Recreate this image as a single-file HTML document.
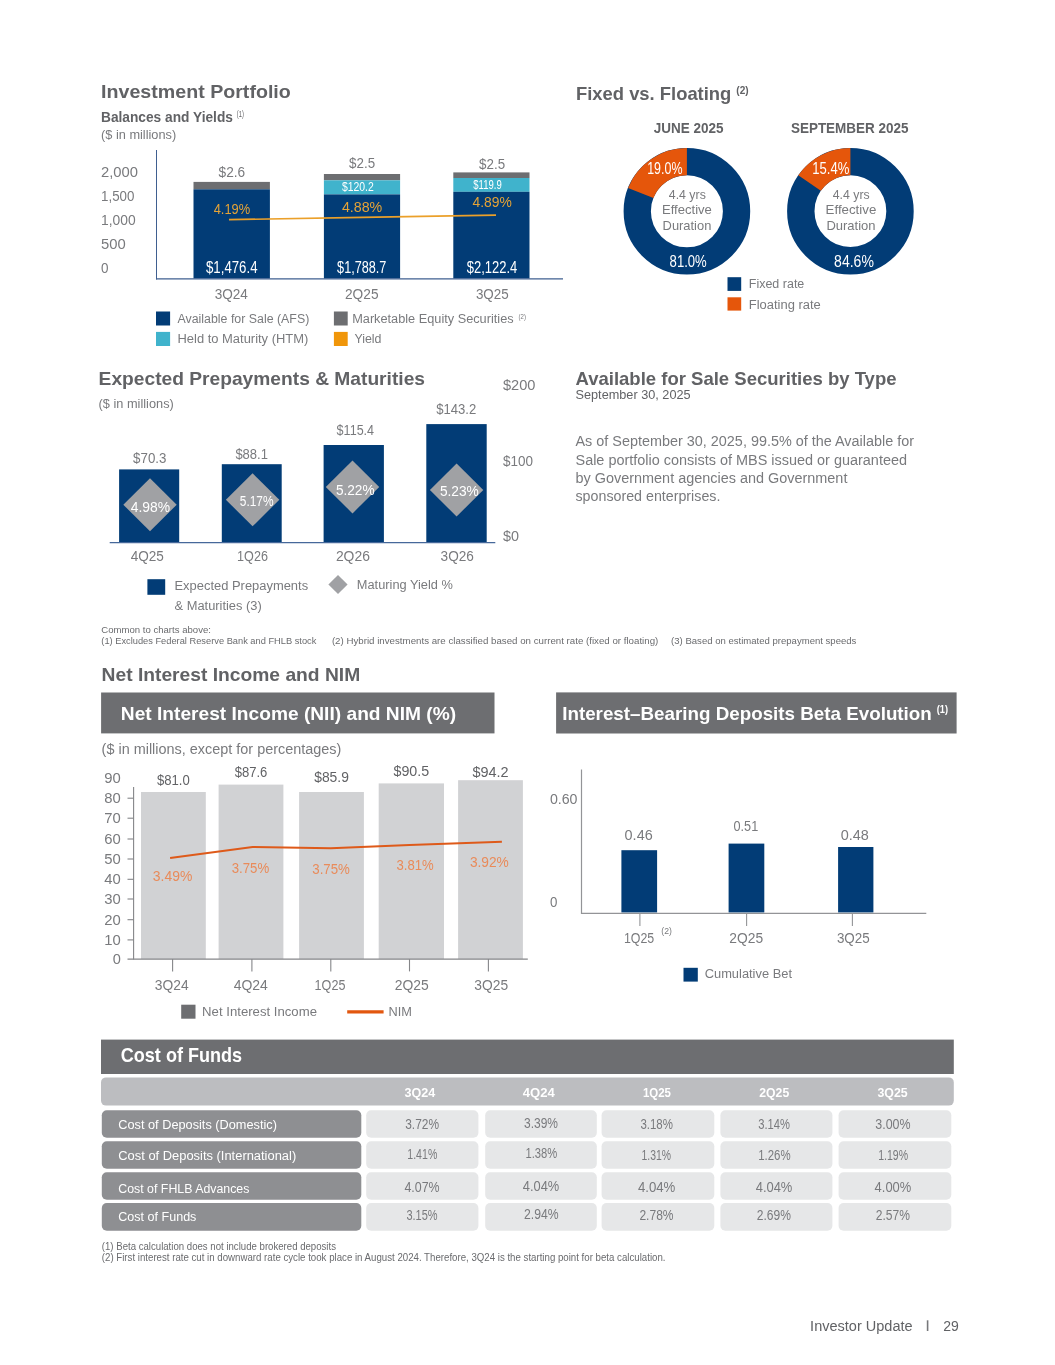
<!DOCTYPE html>
<html><head><meta charset="utf-8"><title>Investor Update</title>
<style>
html,body{margin:0;padding:0;background:#fff;}
body{width:1055px;height:1365px;overflow:hidden;font-family:"Liberation Sans",sans-serif;}
svg{display:block;will-change:transform;}
svg text{font-family:"Liberation Sans",sans-serif;}
</style></head><body>
<svg width="1055" height="1365" viewBox="0 0 1055 1365">
<rect width="1055" height="1365" fill="#ffffff"/>
<text x="101.1" y="98.3" font-size="19.24" textLength="189.7" lengthAdjust="spacingAndGlyphs" fill="#616265" font-weight="bold">Investment Portfolio</text>
<text x="101.0" y="121.7" font-size="14.56" textLength="131.9" lengthAdjust="spacingAndGlyphs" fill="#616265" font-weight="bold">Balances and Yields</text>
<text x="236.8" y="117.3" font-size="8.32" textLength="7.0" lengthAdjust="spacingAndGlyphs" fill="#616265" font-weight="normal">(1)</text>
<text x="101.0" y="139.0" font-size="13.52" textLength="75.2" lengthAdjust="spacingAndGlyphs" fill="#797a7d" font-weight="normal">($ in millions)</text>
<text x="101.0" y="177.2" font-size="15.08" textLength="37.0" lengthAdjust="spacingAndGlyphs" fill="#797a7d" font-weight="normal">2,000</text>
<text x="101.0" y="201.2" font-size="15.08" textLength="33.4" lengthAdjust="spacingAndGlyphs" fill="#797a7d" font-weight="normal">1,500</text>
<text x="101.0" y="225.2" font-size="15.08" textLength="34.6" lengthAdjust="spacingAndGlyphs" fill="#797a7d" font-weight="normal">1,000</text>
<text x="101.0" y="249.2" font-size="15.08" textLength="24.7" lengthAdjust="spacingAndGlyphs" fill="#797a7d" font-weight="normal">500</text>
<text x="101.0" y="273.2" font-size="15.08" textLength="7.5" lengthAdjust="spacingAndGlyphs" fill="#797a7d" font-weight="normal">0</text>
<rect x="193.5" y="181.9" width="76.4" height="7.4" fill="#6d6e71"/>
<rect x="193.5" y="189.3" width="76.4" height="89.2" fill="#023c76"/>
<rect x="323.9" y="174.0" width="76.2" height="6.3" fill="#6d6e71"/>
<rect x="323.9" y="180.3" width="76.2" height="14.1" fill="#40b3cc"/>
<rect x="323.9" y="194.4" width="76.2" height="84.1" fill="#023c76"/>
<rect x="453.3" y="172.4" width="76.2" height="5.6" fill="#6d6e71"/>
<rect x="453.3" y="178.0" width="76.2" height="13.8" fill="#40b3cc"/>
<rect x="453.3" y="191.8" width="76.2" height="86.7" fill="#023c76"/>
<line x1="156.5" y1="150.0" x2="156.5" y2="279.5" stroke="#3f5f90" stroke-width="1"/>
<line x1="156.0" y1="278.9" x2="563.0" y2="278.9" stroke="#3f5f90" stroke-width="1.4"/>
<text x="218.6" y="177.0" font-size="15.08" textLength="26.6" lengthAdjust="spacingAndGlyphs" fill="#797a7d" font-weight="normal">$2.6</text>
<text x="349.1" y="167.9" font-size="15.08" textLength="26.0" lengthAdjust="spacingAndGlyphs" fill="#797a7d" font-weight="normal">$2.5</text>
<text x="479.1" y="168.7" font-size="15.08" textLength="26.0" lengthAdjust="spacingAndGlyphs" fill="#797a7d" font-weight="normal">$2.5</text>
<text x="341.9" y="191.2" font-size="11.96" textLength="31.9" lengthAdjust="spacingAndGlyphs" fill="#fff" font-weight="normal">$120.2</text>
<text x="473.3" y="188.6" font-size="11.96" textLength="28.4" lengthAdjust="spacingAndGlyphs" fill="#fff" font-weight="normal">$119.9</text>
<polyline points="229.0,219.6 362.0,217.4 496.0,215.1" fill="none" stroke="#eba02a" stroke-width="1.6"/>
<text x="213.7" y="214.4" font-size="15.08" textLength="36.5" lengthAdjust="spacingAndGlyphs" fill="#e5a336" font-weight="normal">4.19%</text>
<text x="341.9" y="212.2" font-size="15.08" textLength="40.4" lengthAdjust="spacingAndGlyphs" fill="#e5a336" font-weight="normal">4.88%</text>
<text x="472.5" y="206.9" font-size="15.08" textLength="39.3" lengthAdjust="spacingAndGlyphs" fill="#e5a336" font-weight="normal">4.89%</text>
<text x="206.0" y="272.8" font-size="15.6" textLength="51.5" lengthAdjust="spacingAndGlyphs" fill="#fff" font-weight="normal">$1,476.4</text>
<text x="337.1" y="272.5" font-size="15.6" textLength="49.3" lengthAdjust="spacingAndGlyphs" fill="#fff" font-weight="normal">$1,788.7</text>
<text x="466.8" y="272.8" font-size="15.6" textLength="50.5" lengthAdjust="spacingAndGlyphs" fill="#fff" font-weight="normal">$2,122.4</text>
<text x="214.7" y="298.6" font-size="14.56" textLength="33.2" lengthAdjust="spacingAndGlyphs" fill="#797a7d" font-weight="normal">3Q24</text>
<text x="345.0" y="298.6" font-size="14.56" textLength="33.5" lengthAdjust="spacingAndGlyphs" fill="#797a7d" font-weight="normal">2Q25</text>
<text x="475.9" y="298.6" font-size="14.56" textLength="32.8" lengthAdjust="spacingAndGlyphs" fill="#797a7d" font-weight="normal">3Q25</text>
<rect x="156.0" y="311.5" width="14.1" height="14.0" fill="#023c76"/>
<rect x="156.0" y="331.9" width="14.1" height="14.1" fill="#40b3cc"/>
<rect x="333.9" y="311.5" width="13.8" height="14.0" fill="#6d6e71"/>
<rect x="333.9" y="331.9" width="13.8" height="14.1" fill="#f0960a"/>
<text x="177.5" y="322.6" font-size="13.52" textLength="131.8" lengthAdjust="spacingAndGlyphs" fill="#797a7d" font-weight="normal">Available for Sale (AFS)</text>
<text x="177.5" y="343.0" font-size="13.52" textLength="130.8" lengthAdjust="spacingAndGlyphs" fill="#797a7d" font-weight="normal">Held to Maturity (HTM)</text>
<text x="352.2" y="322.6" font-size="13.52" textLength="161.4" lengthAdjust="spacingAndGlyphs" fill="#797a7d" font-weight="normal">Marketable Equity Securities</text>
<text x="518.5" y="319.0" font-size="7.28" textLength="7.4" lengthAdjust="spacingAndGlyphs" fill="#797a7d" font-weight="normal">(2)</text>
<text x="354.4" y="343.0" font-size="13.52" textLength="27.1" lengthAdjust="spacingAndGlyphs" fill="#797a7d" font-weight="normal">Yield</text>
<text x="576.0" y="99.6" font-size="19.24" textLength="155.3" lengthAdjust="spacingAndGlyphs" fill="#616265" font-weight="bold">Fixed vs. Floating</text>
<text x="736.3" y="94.2" font-size="10.92" textLength="12.3" lengthAdjust="spacingAndGlyphs" fill="#616265" font-weight="bold">(2)</text>
<text x="653.7" y="133.0" font-size="14.56" textLength="69.8" lengthAdjust="spacingAndGlyphs" fill="#616265" font-weight="bold">JUNE 2025</text>
<text x="790.9" y="133.0" font-size="14.56" textLength="117.7" lengthAdjust="spacingAndGlyphs" fill="#616265" font-weight="bold">SEPTEMBER 2025</text>
<circle cx="686.9" cy="211.3" r="49.65" fill="none" stroke="#023c76" stroke-width="27.299999999999997"/>
<path d="M686.90,161.65 A49.65,49.65 0 0 0 640.74,193.02" fill="none" stroke="#e5560b" stroke-width="27.299999999999997"/>
<circle cx="850.4" cy="211.2" r="49.599999999999994" fill="none" stroke="#023c76" stroke-width="27.4"/>
<path d="M850.40,161.60 A49.599999999999994,49.599999999999994 0 0 0 809.55,183.06" fill="none" stroke="#e5560b" stroke-width="27.4"/>
<text x="647.2" y="173.7" font-size="15.91" textLength="35.3" lengthAdjust="spacingAndGlyphs" fill="#fff" font-weight="normal">19.0%</text>
<text x="669.6" y="266.6" font-size="15.91" textLength="37.2" lengthAdjust="spacingAndGlyphs" fill="#fff" font-weight="normal">81.0%</text>
<text x="812.2" y="173.8" font-size="15.91" textLength="37.1" lengthAdjust="spacingAndGlyphs" fill="#fff" font-weight="normal">15.4%</text>
<text x="834.1" y="266.8" font-size="15.91" textLength="39.8" lengthAdjust="spacingAndGlyphs" fill="#fff" font-weight="normal">84.6%</text>
<text x="668.8" y="198.8" font-size="13.0" textLength="37.0" lengthAdjust="spacingAndGlyphs" fill="#797a7d" font-weight="normal">4.4 yrs</text>
<text x="662.0" y="214.3" font-size="13.0" textLength="49.9" lengthAdjust="spacingAndGlyphs" fill="#797a7d" font-weight="normal">Effective</text>
<text x="662.6" y="229.8" font-size="13.0" textLength="48.7" lengthAdjust="spacingAndGlyphs" fill="#797a7d" font-weight="normal">Duration</text>
<text x="832.8" y="198.6" font-size="13.0" textLength="36.8" lengthAdjust="spacingAndGlyphs" fill="#797a7d" font-weight="normal">4.4 yrs</text>
<text x="825.6" y="214.1" font-size="13.0" textLength="50.7" lengthAdjust="spacingAndGlyphs" fill="#797a7d" font-weight="normal">Effective</text>
<text x="826.4" y="229.7" font-size="13.0" textLength="49.1" lengthAdjust="spacingAndGlyphs" fill="#797a7d" font-weight="normal">Duration</text>
<rect x="727.5" y="277.2" width="13.7" height="13.7" fill="#023c76"/>
<rect x="727.5" y="297.3" width="13.7" height="13.3" fill="#e5560b"/>
<text x="748.8" y="288.2" font-size="13.52" textLength="55.5" lengthAdjust="spacingAndGlyphs" fill="#797a7d" font-weight="normal">Fixed rate</text>
<text x="748.8" y="308.7" font-size="13.52" textLength="72.0" lengthAdjust="spacingAndGlyphs" fill="#797a7d" font-weight="normal">Floating rate</text>
<text x="98.6" y="385.4" font-size="19.24" textLength="326.4" lengthAdjust="spacingAndGlyphs" fill="#616265" font-weight="bold">Expected Prepayments &amp; Maturities</text>
<text x="98.6" y="408.0" font-size="13.52" textLength="75.2" lengthAdjust="spacingAndGlyphs" fill="#797a7d" font-weight="normal">($ in millions)</text>
<rect x="119.1" y="469.4" width="60.1" height="73.0" fill="#023c76"/>
<rect x="221.8" y="464.2" width="59.9" height="78.2" fill="#023c76"/>
<rect x="323.6" y="445.0" width="60.3" height="97.4" fill="#023c76"/>
<rect x="426.3" y="424.1" width="60.4" height="118.3" fill="#023c76"/>
<line x1="109.7" y1="542.6" x2="495.3" y2="542.6" stroke="#46689a" stroke-width="1.4"/>
<polygon points="123.3,504.7 150.0,478.2 176.7,504.7 150.0,531.2" fill="#a0a1a4"/>
<polygon points="225.9,499.8 252.6,473.3 279.3,499.8 252.6,526.3" fill="#a0a1a4"/>
<polygon points="325.8,486.9 352.5,460.4 379.2,486.9 352.5,513.4" fill="#a0a1a4"/>
<polygon points="429.9,490.0 456.6,463.5 483.3,490.0 456.6,516.5" fill="#a0a1a4"/>
<text x="130.7" y="511.5" font-size="14.56" textLength="39.4" lengthAdjust="spacingAndGlyphs" fill="#fff" font-weight="normal">4.98%</text>
<text x="239.8" y="506.0" font-size="14.56" textLength="33.8" lengthAdjust="spacingAndGlyphs" fill="#fff" font-weight="normal">5.17%</text>
<text x="335.9" y="495.0" font-size="14.56" textLength="38.7" lengthAdjust="spacingAndGlyphs" fill="#fff" font-weight="normal">5.22%</text>
<text x="439.9" y="495.5" font-size="14.56" textLength="38.9" lengthAdjust="spacingAndGlyphs" fill="#fff" font-weight="normal">5.23%</text>
<text x="133.1" y="463.0" font-size="15.08" textLength="33.3" lengthAdjust="spacingAndGlyphs" fill="#797a7d" font-weight="normal">$70.3</text>
<text x="235.4" y="459.3" font-size="15.08" textLength="32.5" lengthAdjust="spacingAndGlyphs" fill="#797a7d" font-weight="normal">$88.1</text>
<text x="336.6" y="435.2" font-size="15.08" textLength="37.5" lengthAdjust="spacingAndGlyphs" fill="#797a7d" font-weight="normal">$115.4</text>
<text x="436.2" y="414.2" font-size="15.08" textLength="40.1" lengthAdjust="spacingAndGlyphs" fill="#797a7d" font-weight="normal">$143.2</text>
<text x="503.0" y="390.0" font-size="15.08" textLength="32.5" lengthAdjust="spacingAndGlyphs" fill="#797a7d" font-weight="normal">$200</text>
<text x="503.0" y="465.5" font-size="15.08" textLength="30.0" lengthAdjust="spacingAndGlyphs" fill="#797a7d" font-weight="normal">$100</text>
<text x="503.0" y="541.1" font-size="15.08" textLength="16.0" lengthAdjust="spacingAndGlyphs" fill="#797a7d" font-weight="normal">$0</text>
<text x="130.7" y="560.7" font-size="14.56" textLength="33.2" lengthAdjust="spacingAndGlyphs" fill="#797a7d" font-weight="normal">4Q25</text>
<text x="237.1" y="560.7" font-size="14.56" textLength="30.8" lengthAdjust="spacingAndGlyphs" fill="#797a7d" font-weight="normal">1Q26</text>
<text x="335.9" y="560.8" font-size="14.56" textLength="34.0" lengthAdjust="spacingAndGlyphs" fill="#797a7d" font-weight="normal">2Q26</text>
<text x="440.6" y="560.8" font-size="14.56" textLength="33.3" lengthAdjust="spacingAndGlyphs" fill="#797a7d" font-weight="normal">3Q26</text>
<rect x="147.4" y="579.2" width="17.8" height="15.6" fill="#023c76"/>
<text x="174.5" y="589.6" font-size="13.52" textLength="133.6" lengthAdjust="spacingAndGlyphs" fill="#797a7d" font-weight="normal">Expected Prepayments</text>
<text x="174.5" y="610.0" font-size="13.52" textLength="87.3" lengthAdjust="spacingAndGlyphs" fill="#797a7d" font-weight="normal">&amp; Maturities (3)</text>
<polygon points="328.4,584.6 338.0,575.1 347.6,584.6 338.0,594.1" fill="#a0a1a4"/>
<text x="356.8" y="589.2" font-size="13.52" textLength="96.1" lengthAdjust="spacingAndGlyphs" fill="#797a7d" font-weight="normal">Maturing Yield %</text>
<text x="575.5" y="384.6" font-size="19.24" textLength="321.0" lengthAdjust="spacingAndGlyphs" fill="#616265" font-weight="bold">Available for Sale Securities by Type</text>
<text x="575.5" y="398.6" font-size="12.48" textLength="115.1" lengthAdjust="spacingAndGlyphs" fill="#616265" font-weight="normal">September 30, 2025</text>
<text x="575.5" y="446.0" font-size="15.08" textLength="338.5" lengthAdjust="spacingAndGlyphs" fill="#797a7d" font-weight="normal">As of September 30, 2025, 99.5% of the Available for</text>
<text x="575.5" y="464.5" font-size="15.08" textLength="331.5" lengthAdjust="spacingAndGlyphs" fill="#797a7d" font-weight="normal">Sale portfolio consists of MBS issued or guaranteed</text>
<text x="575.5" y="482.8" font-size="15.08" textLength="271.9" lengthAdjust="spacingAndGlyphs" fill="#797a7d" font-weight="normal">by Government agencies and Government</text>
<text x="575.5" y="500.8" font-size="15.08" textLength="144.9" lengthAdjust="spacingAndGlyphs" fill="#797a7d" font-weight="normal">sponsored enterprises.</text>
<text x="101.3" y="633.4" font-size="9.98" textLength="109.6" lengthAdjust="spacingAndGlyphs" fill="#6a6b6e" font-weight="normal">Common to charts above:</text>
<text x="101.3" y="644.4" font-size="9.98" textLength="215.1" lengthAdjust="spacingAndGlyphs" fill="#6a6b6e" font-weight="normal">(1) Excludes Federal Reserve Bank and FHLB stock</text>
<text x="331.9" y="644.4" font-size="9.98" textLength="326.4" lengthAdjust="spacingAndGlyphs" fill="#6a6b6e" font-weight="normal">(2) Hybrid investments are classified based on current rate (fixed or floating)</text>
<text x="671.1" y="644.4" font-size="9.98" textLength="185.3" lengthAdjust="spacingAndGlyphs" fill="#6a6b6e" font-weight="normal">(3) Based on estimated prepayment speeds</text>
<text x="101.6" y="680.9" font-size="19.24" textLength="258.6" lengthAdjust="spacingAndGlyphs" fill="#616265" font-weight="bold">Net Interest Income and NIM</text>
<rect x="101.1" y="692.5" width="393.4" height="40.9" fill="#6d6e71"/>
<text x="120.8" y="719.8" font-size="19.24" textLength="335.3" lengthAdjust="spacingAndGlyphs" fill="#fff" font-weight="bold">Net Interest Income (NII) and NIM (%)</text>
<text x="101.6" y="753.6" font-size="15.08" textLength="239.8" lengthAdjust="spacingAndGlyphs" fill="#797a7d" font-weight="normal">($ in millions, except for percentages)</text>
<rect x="141.0" y="792.0" width="64.8" height="167.0" fill="#d1d2d4"/>
<rect x="218.6" y="784.6" width="64.8" height="174.4" fill="#d1d2d4"/>
<rect x="299.1" y="792.0" width="64.8" height="167.0" fill="#d1d2d4"/>
<rect x="378.7" y="783.4" width="65.3" height="175.6" fill="#d1d2d4"/>
<rect x="458.1" y="780.2" width="64.8" height="178.8" fill="#d1d2d4"/>
<line x1="133.6" y1="787.0" x2="133.6" y2="959.6" stroke="#858689" stroke-width="1.1"/>
<line x1="127.5" y1="959.1" x2="527.8" y2="959.1" stroke="#858689" stroke-width="1.1"/>
<text x="104.3" y="782.9" font-size="14.56" textLength="16.5" lengthAdjust="spacingAndGlyphs" fill="#797a7d" font-weight="normal">90</text>
<text x="104.3" y="803.2" font-size="14.56" textLength="16.5" lengthAdjust="spacingAndGlyphs" fill="#797a7d" font-weight="normal">80</text>
<line x1="127.5" y1="798.2" x2="133.6" y2="798.2" stroke="#858689" stroke-width="1.1"/>
<text x="104.3" y="823.2" font-size="14.56" textLength="16.5" lengthAdjust="spacingAndGlyphs" fill="#797a7d" font-weight="normal">70</text>
<line x1="127.5" y1="818.2" x2="133.6" y2="818.2" stroke="#858689" stroke-width="1.1"/>
<text x="104.3" y="844.0" font-size="14.56" textLength="16.5" lengthAdjust="spacingAndGlyphs" fill="#797a7d" font-weight="normal">60</text>
<line x1="127.5" y1="839.0" x2="133.6" y2="839.0" stroke="#858689" stroke-width="1.1"/>
<text x="104.3" y="864.0" font-size="14.56" textLength="16.5" lengthAdjust="spacingAndGlyphs" fill="#797a7d" font-weight="normal">50</text>
<line x1="127.5" y1="859.0" x2="133.6" y2="859.0" stroke="#858689" stroke-width="1.1"/>
<text x="104.3" y="884.3" font-size="14.56" textLength="16.5" lengthAdjust="spacingAndGlyphs" fill="#797a7d" font-weight="normal">40</text>
<line x1="127.5" y1="879.3" x2="133.6" y2="879.3" stroke="#858689" stroke-width="1.1"/>
<text x="104.3" y="904.0" font-size="14.56" textLength="16.5" lengthAdjust="spacingAndGlyphs" fill="#797a7d" font-weight="normal">30</text>
<line x1="127.5" y1="899.0" x2="133.6" y2="899.0" stroke="#858689" stroke-width="1.1"/>
<text x="104.3" y="924.7" font-size="14.56" textLength="16.5" lengthAdjust="spacingAndGlyphs" fill="#797a7d" font-weight="normal">20</text>
<line x1="127.5" y1="919.7" x2="133.6" y2="919.7" stroke="#858689" stroke-width="1.1"/>
<text x="104.3" y="944.9" font-size="14.56" textLength="16.5" lengthAdjust="spacingAndGlyphs" fill="#797a7d" font-weight="normal">10</text>
<line x1="127.5" y1="939.9" x2="133.6" y2="939.9" stroke="#858689" stroke-width="1.1"/>
<text x="112.7" y="964.1" font-size="14.56" textLength="8.1" lengthAdjust="spacingAndGlyphs" fill="#797a7d" font-weight="normal">0</text>
<line x1="172.6" y1="959.1" x2="172.6" y2="971.4" stroke="#858689" stroke-width="1.1"/>
<line x1="251.9" y1="959.1" x2="251.9" y2="971.4" stroke="#858689" stroke-width="1.1"/>
<line x1="330.8" y1="959.1" x2="330.8" y2="971.4" stroke="#858689" stroke-width="1.1"/>
<line x1="409.5" y1="959.1" x2="409.5" y2="971.4" stroke="#858689" stroke-width="1.1"/>
<line x1="488.4" y1="959.1" x2="488.4" y2="971.4" stroke="#858689" stroke-width="1.1"/>
<polyline points="170.1,858.1 252.6,847.0 330.8,848.2 409.5,845.0 501.9,841.8" fill="none" stroke="#de5a1a" stroke-width="2"/>
<text x="157.0" y="785.1" font-size="15.08" textLength="32.8" lengthAdjust="spacingAndGlyphs" fill="#616265" font-weight="normal">$81.0</text>
<text x="234.7" y="777.3" font-size="15.08" textLength="32.7" lengthAdjust="spacingAndGlyphs" fill="#616265" font-weight="normal">$87.6</text>
<text x="314.2" y="782.2" font-size="15.08" textLength="34.7" lengthAdjust="spacingAndGlyphs" fill="#616265" font-weight="normal">$85.9</text>
<text x="393.5" y="776.0" font-size="15.08" textLength="35.7" lengthAdjust="spacingAndGlyphs" fill="#616265" font-weight="normal">$90.5</text>
<text x="472.4" y="776.8" font-size="15.08" textLength="36.2" lengthAdjust="spacingAndGlyphs" fill="#616265" font-weight="normal">$94.2</text>
<text x="152.8" y="881.2" font-size="14.56" textLength="39.5" lengthAdjust="spacingAndGlyphs" fill="#e98b5a" font-weight="normal">3.49%</text>
<text x="231.7" y="873.4" font-size="14.56" textLength="37.5" lengthAdjust="spacingAndGlyphs" fill="#e98b5a" font-weight="normal">3.75%</text>
<text x="312.3" y="874.1" font-size="14.56" textLength="37.6" lengthAdjust="spacingAndGlyphs" fill="#e98b5a" font-weight="normal">3.75%</text>
<text x="396.5" y="869.7" font-size="14.56" textLength="37.2" lengthAdjust="spacingAndGlyphs" fill="#e98b5a" font-weight="normal">3.81%</text>
<text x="469.9" y="867.2" font-size="14.56" textLength="38.9" lengthAdjust="spacingAndGlyphs" fill="#e98b5a" font-weight="normal">3.92%</text>
<text x="154.8" y="989.7" font-size="14.56" textLength="33.8" lengthAdjust="spacingAndGlyphs" fill="#797a7d" font-weight="normal">3Q24</text>
<text x="233.7" y="989.7" font-size="14.56" textLength="34.2" lengthAdjust="spacingAndGlyphs" fill="#797a7d" font-weight="normal">4Q24</text>
<text x="314.6" y="989.7" font-size="14.56" textLength="30.8" lengthAdjust="spacingAndGlyphs" fill="#797a7d" font-weight="normal">1Q25</text>
<text x="394.7" y="989.7" font-size="14.56" textLength="34.0" lengthAdjust="spacingAndGlyphs" fill="#797a7d" font-weight="normal">2Q25</text>
<text x="474.3" y="989.7" font-size="14.56" textLength="33.8" lengthAdjust="spacingAndGlyphs" fill="#797a7d" font-weight="normal">3Q25</text>
<rect x="181.2" y="1004.7" width="14.3" height="14.0" fill="#6d6e71"/>
<text x="202.1" y="1016.3" font-size="13.52" textLength="114.9" lengthAdjust="spacingAndGlyphs" fill="#797a7d" font-weight="normal">Net Interest Income</text>
<line x1="347.2" y1="1011.8" x2="383.6" y2="1011.8" stroke="#e2570f" stroke-width="3.2"/>
<text x="388.6" y="1016.3" font-size="13.52" textLength="23.4" lengthAdjust="spacingAndGlyphs" fill="#797a7d" font-weight="normal">NIM</text>
<rect x="556.1" y="692.4" width="400.5" height="41.1" fill="#6d6e71"/>
<text x="562.2" y="719.6" font-size="19.24" textLength="369.6" lengthAdjust="spacingAndGlyphs" fill="#fff" font-weight="bold">Interest–Bearing Deposits Beta Evolution</text>
<text x="936.7" y="713.2" font-size="10.92" textLength="11.3" lengthAdjust="spacingAndGlyphs" fill="#fff" font-weight="bold">(1)</text>
<line x1="581.5" y1="769.5" x2="581.5" y2="914.0" stroke="#939497" stroke-width="1.2"/>
<line x1="581.0" y1="913.4" x2="926.3" y2="913.4" stroke="#939497" stroke-width="1.2"/>
<rect x="621.4" y="850.2" width="35.7" height="62.2" fill="#023c76"/>
<rect x="728.6" y="843.6" width="35.7" height="68.8" fill="#023c76"/>
<rect x="838.1" y="847.0" width="35.3" height="65.4" fill="#023c76"/>
<line x1="639.9" y1="913.4" x2="639.9" y2="926.0" stroke="#939497" stroke-width="1.1"/>
<line x1="746.6" y1="913.4" x2="746.6" y2="926.0" stroke="#939497" stroke-width="1.1"/>
<line x1="852.4" y1="913.4" x2="852.4" y2="926.0" stroke="#939497" stroke-width="1.1"/>
<text x="549.9" y="803.9" font-size="15.08" textLength="27.6" lengthAdjust="spacingAndGlyphs" fill="#797a7d" font-weight="normal">0.60</text>
<text x="549.9" y="907.4" font-size="15.08" textLength="7.4" lengthAdjust="spacingAndGlyphs" fill="#797a7d" font-weight="normal">0</text>
<text x="624.6" y="839.9" font-size="15.08" textLength="28.1" lengthAdjust="spacingAndGlyphs" fill="#797a7d" font-weight="normal">0.46</text>
<text x="733.5" y="831.3" font-size="15.08" textLength="24.7" lengthAdjust="spacingAndGlyphs" fill="#797a7d" font-weight="normal">0.51</text>
<text x="840.8" y="839.9" font-size="15.08" textLength="28.1" lengthAdjust="spacingAndGlyphs" fill="#797a7d" font-weight="normal">0.48</text>
<text x="623.9" y="943.1" font-size="14.56" textLength="30.3" lengthAdjust="spacingAndGlyphs" fill="#797a7d" font-weight="normal">1Q25</text>
<text x="661.3" y="934.3" font-size="8.84" textLength="10.6" lengthAdjust="spacingAndGlyphs" fill="#797a7d" font-weight="normal">(2)</text>
<text x="729.3" y="943.1" font-size="14.56" textLength="33.8" lengthAdjust="spacingAndGlyphs" fill="#797a7d" font-weight="normal">2Q25</text>
<text x="836.9" y="943.1" font-size="14.56" textLength="32.8" lengthAdjust="spacingAndGlyphs" fill="#797a7d" font-weight="normal">3Q25</text>
<rect x="683.5" y="967.8" width="14.3" height="13.8" fill="#023c76"/>
<text x="704.7" y="978.4" font-size="13.52" textLength="87.3" lengthAdjust="spacingAndGlyphs" fill="#797a7d" font-weight="normal">Cumulative Bet</text>
<rect x="101.0" y="1039.6" width="852.8" height="34.4" fill="#6d6e71"/>
<text x="120.8" y="1061.5" font-size="20.28" textLength="121.2" lengthAdjust="spacingAndGlyphs" fill="#fff" font-weight="bold">Cost of Funds</text>
<rect x="101.0" y="1077.4" width="852.8" height="28.2" fill="#bcbdc0" rx="5"/>
<text x="404.4" y="1097.0" font-size="13.52" textLength="30.8" lengthAdjust="spacingAndGlyphs" fill="#fff" font-weight="bold">3Q24</text>
<text x="522.8" y="1097.0" font-size="13.52" textLength="32.0" lengthAdjust="spacingAndGlyphs" fill="#fff" font-weight="bold">4Q24</text>
<text x="643.0" y="1097.0" font-size="13.52" textLength="28.0" lengthAdjust="spacingAndGlyphs" fill="#fff" font-weight="bold">1Q25</text>
<text x="759.3" y="1097.0" font-size="13.52" textLength="29.9" lengthAdjust="spacingAndGlyphs" fill="#fff" font-weight="bold">2Q25</text>
<text x="877.5" y="1097.0" font-size="13.52" textLength="30.2" lengthAdjust="spacingAndGlyphs" fill="#fff" font-weight="bold">3Q25</text>
<rect x="101.8" y="1110.2" width="259.5" height="27.6" fill="#8e8f92" rx="5"/>
<rect x="366.2" y="1110.2" width="112.2" height="27.6" fill="#e6e7e8" rx="5"/>
<rect x="485.2" y="1110.2" width="111.6" height="27.6" fill="#e6e7e8" rx="5"/>
<rect x="601.6" y="1110.2" width="112.7" height="27.6" fill="#e6e7e8" rx="5"/>
<rect x="720.4" y="1110.2" width="112.0" height="27.6" fill="#e6e7e8" rx="5"/>
<rect x="838.6" y="1110.2" width="112.7" height="27.6" fill="#e6e7e8" rx="5"/>
<rect x="101.8" y="1141.2" width="259.5" height="27.6" fill="#8e8f92" rx="5"/>
<rect x="366.2" y="1141.2" width="112.2" height="27.6" fill="#e6e7e8" rx="5"/>
<rect x="485.2" y="1141.2" width="111.6" height="27.6" fill="#e6e7e8" rx="5"/>
<rect x="601.6" y="1141.2" width="112.7" height="27.6" fill="#e6e7e8" rx="5"/>
<rect x="720.4" y="1141.2" width="112.0" height="27.6" fill="#e6e7e8" rx="5"/>
<rect x="838.6" y="1141.2" width="112.7" height="27.6" fill="#e6e7e8" rx="5"/>
<rect x="101.8" y="1172.2" width="259.5" height="27.6" fill="#8e8f92" rx="5"/>
<rect x="366.2" y="1172.2" width="112.2" height="27.6" fill="#e6e7e8" rx="5"/>
<rect x="485.2" y="1172.2" width="111.6" height="27.6" fill="#e6e7e8" rx="5"/>
<rect x="601.6" y="1172.2" width="112.7" height="27.6" fill="#e6e7e8" rx="5"/>
<rect x="720.4" y="1172.2" width="112.0" height="27.6" fill="#e6e7e8" rx="5"/>
<rect x="838.6" y="1172.2" width="112.7" height="27.6" fill="#e6e7e8" rx="5"/>
<rect x="101.8" y="1203.0" width="259.5" height="27.7" fill="#8e8f92" rx="5"/>
<rect x="366.2" y="1203.0" width="112.2" height="27.7" fill="#e6e7e8" rx="5"/>
<rect x="485.2" y="1203.0" width="111.6" height="27.7" fill="#e6e7e8" rx="5"/>
<rect x="601.6" y="1203.0" width="112.7" height="27.7" fill="#e6e7e8" rx="5"/>
<rect x="720.4" y="1203.0" width="112.0" height="27.7" fill="#e6e7e8" rx="5"/>
<rect x="838.6" y="1203.0" width="112.7" height="27.7" fill="#e6e7e8" rx="5"/>
<text x="118.3" y="1128.9" font-size="13.52" textLength="158.6" lengthAdjust="spacingAndGlyphs" fill="#fff" font-weight="normal">Cost of Deposits (Domestic)</text>
<text x="118.3" y="1159.7" font-size="13.52" textLength="177.9" lengthAdjust="spacingAndGlyphs" fill="#fff" font-weight="normal">Cost of Deposits (International)</text>
<text x="118.3" y="1192.6" font-size="13.52" textLength="131.1" lengthAdjust="spacingAndGlyphs" fill="#fff" font-weight="normal">Cost of FHLB Advances</text>
<text x="118.3" y="1220.7" font-size="13.52" textLength="78.1" lengthAdjust="spacingAndGlyphs" fill="#fff" font-weight="normal">Cost of Funds</text>
<text x="405.2" y="1129.0" font-size="14.04" textLength="33.8" lengthAdjust="spacingAndGlyphs" fill="#797a7d" font-weight="normal">3.72%</text>
<text x="524.0" y="1127.9" font-size="14.04" textLength="34.0" lengthAdjust="spacingAndGlyphs" fill="#797a7d" font-weight="normal">3.39%</text>
<text x="640.4" y="1129.1" font-size="14.04" textLength="32.5" lengthAdjust="spacingAndGlyphs" fill="#797a7d" font-weight="normal">3.18%</text>
<text x="758.2" y="1129.1" font-size="14.04" textLength="31.7" lengthAdjust="spacingAndGlyphs" fill="#797a7d" font-weight="normal">3.14%</text>
<text x="875.3" y="1129.1" font-size="14.04" textLength="35.3" lengthAdjust="spacingAndGlyphs" fill="#797a7d" font-weight="normal">3.00%</text>
<text x="407.3" y="1159.3" font-size="14.04" textLength="30.0" lengthAdjust="spacingAndGlyphs" fill="#797a7d" font-weight="normal">1.41%</text>
<text x="525.4" y="1158.4" font-size="14.04" textLength="31.8" lengthAdjust="spacingAndGlyphs" fill="#797a7d" font-weight="normal">1.38%</text>
<text x="641.5" y="1159.7" font-size="14.04" textLength="29.5" lengthAdjust="spacingAndGlyphs" fill="#797a7d" font-weight="normal">1.31%</text>
<text x="758.2" y="1159.7" font-size="14.04" textLength="32.4" lengthAdjust="spacingAndGlyphs" fill="#797a7d" font-weight="normal">1.26%</text>
<text x="878.2" y="1159.7" font-size="14.04" textLength="29.9" lengthAdjust="spacingAndGlyphs" fill="#797a7d" font-weight="normal">1.19%</text>
<text x="404.4" y="1191.6" font-size="14.04" textLength="35.2" lengthAdjust="spacingAndGlyphs" fill="#797a7d" font-weight="normal">4.07%</text>
<text x="522.8" y="1191.0" font-size="14.04" textLength="36.4" lengthAdjust="spacingAndGlyphs" fill="#797a7d" font-weight="normal">4.04%</text>
<text x="637.9" y="1192.1" font-size="14.04" textLength="37.5" lengthAdjust="spacingAndGlyphs" fill="#797a7d" font-weight="normal">4.04%</text>
<text x="755.7" y="1192.1" font-size="14.04" textLength="36.7" lengthAdjust="spacingAndGlyphs" fill="#797a7d" font-weight="normal">4.04%</text>
<text x="874.6" y="1192.1" font-size="14.04" textLength="36.7" lengthAdjust="spacingAndGlyphs" fill="#797a7d" font-weight="normal">4.00%</text>
<text x="406.4" y="1219.5" font-size="14.04" textLength="31.2" lengthAdjust="spacingAndGlyphs" fill="#797a7d" font-weight="normal">3.15%</text>
<text x="524.0" y="1218.7" font-size="14.04" textLength="34.6" lengthAdjust="spacingAndGlyphs" fill="#797a7d" font-weight="normal">2.94%</text>
<text x="639.4" y="1219.8" font-size="14.04" textLength="34.2" lengthAdjust="spacingAndGlyphs" fill="#797a7d" font-weight="normal">2.78%</text>
<text x="756.8" y="1219.8" font-size="14.04" textLength="34.2" lengthAdjust="spacingAndGlyphs" fill="#797a7d" font-weight="normal">2.69%</text>
<text x="875.7" y="1219.8" font-size="14.04" textLength="34.2" lengthAdjust="spacingAndGlyphs" fill="#797a7d" font-weight="normal">2.57%</text>
<text x="101.8" y="1249.9" font-size="10.09" textLength="234.2" lengthAdjust="spacingAndGlyphs" fill="#6a6b6e" font-weight="normal">(1) Beta calculation does not include brokered deposits</text>
<text x="101.8" y="1260.9" font-size="10.09" textLength="563.7" lengthAdjust="spacingAndGlyphs" fill="#6a6b6e" font-weight="normal">(2) First interest rate cut in downward rate cycle took place in August 2024. Therefore, 3Q24 is the starting point for beta calculation.</text>
<text x="810.1" y="1330.9" font-size="15.08" textLength="102.5" lengthAdjust="spacingAndGlyphs" fill="#616265" font-weight="normal">Investor Update</text>
<line x1="927.6" y1="1320.3" x2="927.6" y2="1331.0" stroke="#77787b" stroke-width="1.6"/>
<text x="943.2" y="1330.9" font-size="15.08" textLength="15.6" lengthAdjust="spacingAndGlyphs" fill="#616265" font-weight="normal">29</text>
</svg>
</body></html>
